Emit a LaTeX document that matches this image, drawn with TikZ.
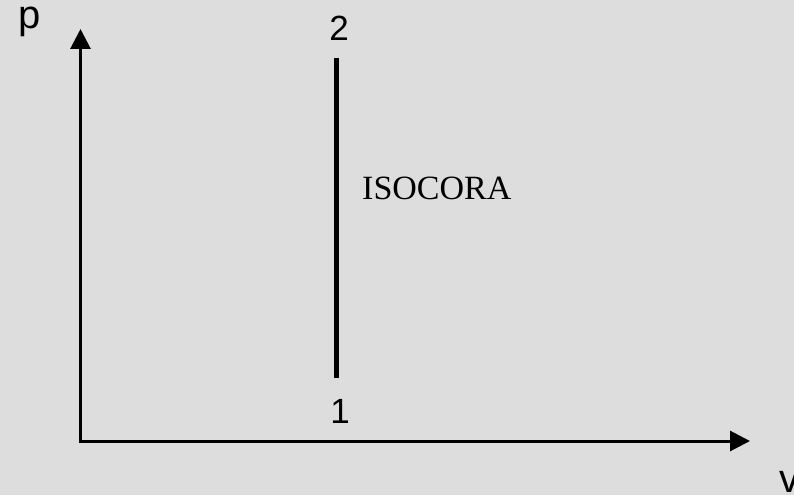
\documentclass[tikz,border=0pt]{standalone}
\usepackage{fontspec}
\setmainfont{Liberation Serif}
\newfontfamily\axisfont{Liberation Sans}
\usepackage{xcolor}
\usetikzlibrary{arrows.meta}
\definecolor{PanelGray}{HTML}{DDDDDD}

\begin{document}
\begin{tikzpicture}[x=1pt,y=-1pt,
  axis/.style={draw=black,line width=3pt,-{Triangle[length=20pt,width=20pt]}},
  isoline/.style={draw=black,line width=5pt},
  axislabel/.style={font=\axisfont\fontsize{40}{44}\selectfont,inner sep=0pt,anchor=base},
  statelabel/.style={font=\axisfont\fontsize{35}{40}\selectfont,inner sep=0pt,anchor=base},
  curvelabel/.style={font=\fontsize{34}{38}\selectfont,inner sep=0pt,anchor=base west}
]
\fill[PanelGray] (0,0) rectangle (794,495);
\useasboundingbox (0,0) rectangle (794,495);

% axes
\coordinate (origin) at (80.5,441);
\coordinate (pfoot) at (80.5,443);
\coordinate (ptip) at (80.5,29);
\coordinate (vstart) at (79,441);
\coordinate (vtip) at (750,441);
\draw[axis] (pfoot) -- (ptip);
\draw[axis] (vstart) -- (vtip);
\node[axislabel] (plabel) at (30,29) {p};
\node[axislabel] (vlabel) at (789,492) {v};

% isochoric process 1 -> 2
\coordinate (s1) at (336,378);
\coordinate (s2) at (336,58);
\draw[isoline] (s1) -- (s2);
\node[statelabel] (state2) at (339,41) {2};
\node[statelabel] (state1) at (340,423) {1};
\node[curvelabel] (iso) at (362,199) {ISOCORA};
\end{tikzpicture}
\end{document}
